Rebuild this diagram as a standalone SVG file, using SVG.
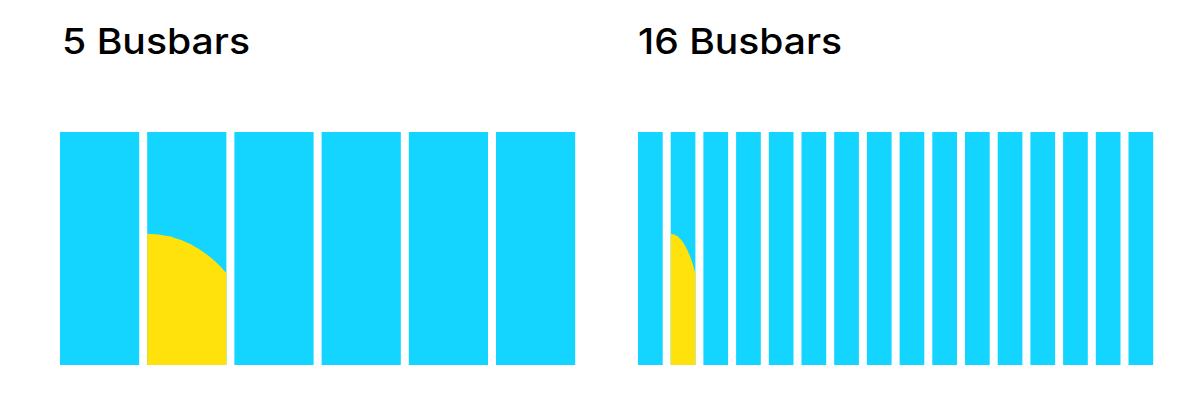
<svg xmlns="http://www.w3.org/2000/svg" width="1200" height="401" viewBox="0 0 1200 401">
<style>
.bar{fill:#13D5FF}
.sun{fill:#FFE20B}
.t{font-family:Inter,"Open Sans",sans-serif;font-size:36px;font-weight:500;fill:#000}
</style>
<rect width="1200" height="401" fill="#fff"/>
<g id="five-busbars">
<text class="t" x="62" y="53.5" textLength="188" lengthAdjust="spacingAndGlyphs">5 Busbars</text>
<rect class="bar" x="60" y="132" width="79.2" height="233"/>
<rect class="bar" x="147.2" y="132" width="79.2" height="233"/>
<rect class="bar" x="234.4" y="132" width="79.2" height="233"/>
<rect class="bar" x="321.6" y="132" width="79.2" height="233"/>
<rect class="bar" x="408.8" y="132" width="79.2" height="233"/>
<rect class="bar" x="496" y="132" width="79.2" height="233"/>
<path class="sun" d="M147.2,365 V233.7 A110.8,131.3 0 0 1 226.4,273.3 V365 Z"/>
</g>
<g id="sixteen-busbars">
<text class="t" x="638" y="53.5" textLength="204" lengthAdjust="spacingAndGlyphs">16 Busbars</text>
<rect class="bar" x="638" y="132" width="24.7" height="233"/>
<rect class="bar" x="670.7" y="132" width="24.7" height="233"/>
<rect class="bar" x="703.4" y="132" width="24.7" height="233"/>
<rect class="bar" x="736.1" y="132" width="24.7" height="233"/>
<rect class="bar" x="768.8" y="132" width="24.7" height="233"/>
<rect class="bar" x="801.5" y="132" width="24.7" height="233"/>
<rect class="bar" x="834.2" y="132" width="24.7" height="233"/>
<rect class="bar" x="866.9" y="132" width="24.7" height="233"/>
<rect class="bar" x="899.6" y="132" width="24.7" height="233"/>
<rect class="bar" x="932.3" y="132" width="24.7" height="233"/>
<rect class="bar" x="965" y="132" width="24.7" height="233"/>
<rect class="bar" x="997.7" y="132" width="24.7" height="233"/>
<rect class="bar" x="1030.4" y="132" width="24.7" height="233"/>
<rect class="bar" x="1063.1" y="132" width="24.7" height="233"/>
<rect class="bar" x="1095.8" y="132" width="24.7" height="233"/>
<rect class="bar" x="1128.5" y="132" width="24.7" height="233"/>
<path class="sun" d="M670.7,365 V233.7 A34.55,131.3 0 0 1 695.4,273.3 V365 Z"/>
</g>
<g id="connectors"/>
</svg>
